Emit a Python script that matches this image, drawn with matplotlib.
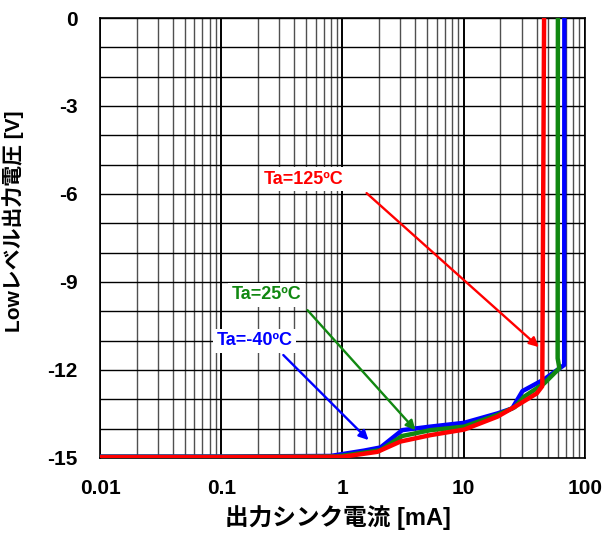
import numpy as np
import matplotlib
matplotlib.use("Agg")
import matplotlib.pyplot as plt
from matplotlib.ticker import FixedLocator, NullFormatter

plt.rcParams['font.family'] = ['Liberation Sans', 'Noto Sans CJK JP', 'DejaVu Sans']

# Sink current [mA] vs. low-level output voltage [V] at three ambient temperatures
i_m40 = [0.01, 0.1, 0.8, 1.5, 2.06, 3.11, 5.33, 10.1, 19.0, 25.1, 30.5, 46.0, 67.4, 67.4, 67.6]
v_m40 = [-14.95, -14.95, -14.93, -14.75, -14.64, -14.05, -13.93, -13.80, -13.48, -13.31, -12.72, -12.32, -11.83, -11.6, 0.0]

i_25 = [0.01, 0.1, 0.9, 1.5, 2.06, 3.11, 5.33, 10.1, 19.0, 26.3, 31.5, 46.0, 61.5, 59.5, 59.8]
v_25 = [-14.96, -14.96, -14.95, -14.82, -14.73, -14.25, -14.05, -13.93, -13.53, -13.27, -12.91, -12.46, -11.94, -11.6, 0.0]

i_125 = [0.01, 0.1, 1.0, 1.94, 3.0, 5.33, 10.1, 19.0, 27.8, 40.0, 44.5, 44.5, 46.0]
v_125 = [-14.97, -14.97, -14.96, -14.79, -14.44, -14.22, -14.03, -13.59, -13.2, -12.8, -12.55, -12.0, 0.0]

series = [
    ("Ta=-40ºC", i_m40, v_m40, "#0000ff", (0.1875, -11.01), (0.325, -11.49), (1.64, -14.39)),
    ("Ta=25ºC", i_25, v_25, "#118811", (0.236, -9.44), (0.514, -9.96), (4.0, -14.05)),
    ("Ta=125ºC", i_125, v_125, "#ff0000", (0.477, -5.49), (1.58, -5.97), (41.7, -11.22)),
]

x_ticks = [0.01, 0.1, 1, 10, 100]
x_tick_labels = ["0.01", "0.1", "1", "10", "100"]
y_ticks = [0, -3, -6, -9, -12, -15]

fig = plt.figure(figsize=(6.04, 5.39), dpi=100)
ax = fig.add_axes([0.1656, 0.1503, 0.8029, 0.8163])

ax.set_xscale('log')
ax.set_xlim(0.01, 100)
ax.set_ylim(-15, 0)

# grid: decades black, sub-decades grey, every volt black
ax.xaxis.set_major_locator(FixedLocator(x_ticks))
minor = [m * 10.0 ** e for e in range(-2, 2) for m in range(2, 10)]
ax.xaxis.set_minor_locator(FixedLocator(minor))
ax.xaxis.set_minor_formatter(NullFormatter())
ax.set_xticklabels(x_tick_labels)
ax.set_yticks(y_ticks)
ax.set_yticklabels([str(v) for v in y_ticks])
ax.yaxis.set_minor_locator(FixedLocator(np.arange(-15, 1, 1)))

ax.grid(True, which='major', axis='x', color='black', lw=1.4)
ax.grid(True, which='minor', axis='x', color='#505050', lw=1.0)
ax.grid(True, which='both', axis='y', color='black', lw=1.0)
ax.set_axisbelow(True)
ax.tick_params(which='both', length=0, labelsize=15)
ax.tick_params(axis='x', pad=15)
ax.tick_params(axis='y', pad=16)
for lab in ax.get_xticklabels() + ax.get_yticklabels():
    lab.set_fontweight('bold')
for s in ax.spines.values():
    s.set_linewidth(1.2)
    s.set_color('black')

for label, xs, ys, col, tpos, a0, a1 in series:
    ax.plot(xs, ys, color=col, lw=3.2, solid_joinstyle='round', zorder=3)

for label, xs, ys, col, tpos, a0, a1 in series:
    ax.annotate("", xy=a1, xytext=a0,
                arrowprops=dict(arrowstyle='-|>', color=col, lw=1.7,
                                mutation_scale=14, shrinkA=0, shrinkB=0),
                zorder=4)
    ax.text(tpos[0], tpos[1], label, color=col, fontsize=13, fontweight='bold',
            ha='center', va='center', zorder=5,
            bbox=dict(boxstyle='square,pad=0.2', fc='white', ec='none'))

ax.set_xlabel("出力シンク電流 [mA]", fontsize=17, fontweight='bold')
ax.xaxis.set_label_coords(0.491, -0.107)
ax.set_ylabel("Lowレベル出力電圧 [V]", fontsize=15, fontweight='bold')
ax.yaxis.set_label_coords(-0.157, 0.539)

fig.savefig("out.png", dpi=100)
